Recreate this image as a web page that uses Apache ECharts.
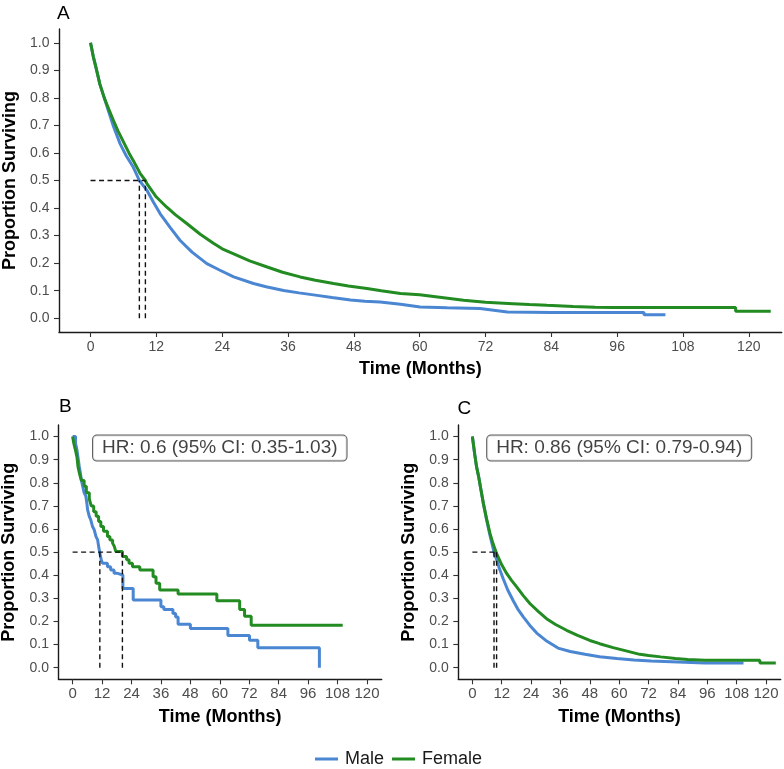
<!DOCTYPE html>
<html><head><meta charset="utf-8">
<script src="https://cdn.jsdelivr.net/npm/echarts@6/dist/echarts.min.js"></script>
<style>html,body{margin:0;padding:0;background:#fff}#c{width:784px;height:769px}</style>
</head><body><div id="c"></div>
<script>
// ---- tick labels ----
const xTicks = [0, 12, 24, 36, 48, 60, 72, 84, 96, 108, 120];
const yTicks = [0, 0.1, 0.2, 0.3, 0.4, 0.5, 0.6, 0.7, 0.8, 0.9, 1.0];
const groups = ['Male', 'Female'];

// ---- Panel A : [time (months), proportion surviving] ----
const maleA = [[0,1],[0.5,0.95],[1,0.91],[1.7,0.85],[2.5,0.8],[3.3,0.75],[4.2,0.695],[5.4,0.633],[6.5,0.59],[7.8,0.548],[8.9,0.5],[10.3,0.464],[11.5,0.42],[12.7,0.379],[14.5,0.33],[16.3,0.283],[18.5,0.24],[21.2,0.198],[23.5,0.175],[26.1,0.15],[29.7,0.126],[32,0.114],[35.2,0.101],[38,0.092],[41.3,0.083],[44,0.075],[47.4,0.066],[50,0.062],[52.8,0.059],[56.5,0.051],[60.1,0.041],[65,0.038],[71,0.035],[76,0.023],[84,0.021],[100.9,0.021],[100.9,0.013],[104.8,0.013]];
const femaleA = [[0,1],[0.5,0.95],[1,0.91],[1.7,0.85],[2.5,0.8],[3.3,0.76],[4.2,0.717],[5,0.68],[6,0.64],[7,0.6],[7.8,0.572],[9,0.527],[10,0.5],[10.3,0.488],[12,0.44],[13.9,0.403],[15.5,0.375],[17.6,0.343],[20,0.305],[22.4,0.272],[24,0.252],[26.1,0.234],[29,0.208],[32.2,0.186],[35,0.167],[38.2,0.15],[41,0.138],[44.3,0.126],[47,0.117],[50.4,0.108],[53,0.1],[56.5,0.09],[60,0.085],[64,0.075],[68,0.065],[72,0.058],[77,0.053],[80,0.05],[83.2,0.047],[88,0.043],[92,0.04],[95.4,0.039],[117.6,0.039],[117.6,0.025],[124,0.025]];
const medianA = [8.9, 10.0];

// ---- Panel B (Kaplan-Meier steps) ----
const maleB = [[0,1],[1.2,0.97],[1.8,0.94],[2.2,0.91],[2.7,0.872],[3.2,0.84],[3.6,0.81],[4.1,0.785],[4.7,0.757],[5.4,0.742],[5.8,0.713],[6.1,0.684],[6.8,0.655],[7.4,0.64],[8.1,0.611],[8.8,0.597],[9.5,0.568],[10.2,0.553],[10.6,0.525],[11.1,0.496],[11.7,0.466],[12.2,0.452],[14.2,0.437],[15.5,0.423],[16.9,0.409],[18,0.401],[20.5,0.343],[24.7,0.293],[36,0.264],[37.2,0.252],[40.9,0.235],[42,0.22],[43,0.188],[48,0.17],[63.3,0.14],[72.1,0.119],[75.5,0.087],[100.6,0]];
const femaleB = [[0,1],[0.5,0.97],[1.2,0.94],[1.8,0.91],[2.2,0.87],[2.8,0.84],[3.6,0.81],[4.7,0.785],[5.6,0.757],[6.8,0.73],[7.6,0.7],[8.6,0.675],[9.6,0.655],[10.6,0.633],[11.5,0.611],[12.6,0.59],[14.2,0.568],[15.2,0.553],[16.3,0.539],[17,0.525],[17.6,0.503],[20.3,0.481],[22,0.467],[23,0.452],[24.4,0.437],[27.4,0.423],[32.8,0.394],[34,0.365],[35.5,0.336],[43,0.319],[58.8,0.29],[68.1,0.252],[70.1,0.223],[72.8,0.184],[110.1,0.184]];
const medianB = [11.1, 20.3];
const hrB = 'HR: 0.6 (95% CI: 0.35-1.03)';

// ---- Panel C ----
const maleC = [[0,1],[0.5,0.96],[1,0.92],[1.7,0.87],[2.5,0.83],[3.5,0.77],[4.5,0.71],[5.8,0.64],[7.2,0.572],[8.85,0.5],[9.9,0.468],[11,0.43],[12.6,0.385],[14.5,0.335],[16.7,0.29],[18.5,0.255],[20.8,0.22],[23.5,0.183],[26.3,0.15],[30,0.118],[35,0.085],[40,0.07],[46,0.058],[52,0.048],[59,0.04],[66,0.033],[73,0.029],[84,0.025],[95,0.021],[110.8,0.021]];
const femaleC = [[0,1],[0.5,0.96],[1,0.92],[1.7,0.87],[2.5,0.83],[3.5,0.77],[4.5,0.711],[5.8,0.645],[7.2,0.581],[8.5,0.535],[9.9,0.494],[12,0.445],[14,0.408],[16,0.378],[18.1,0.35],[20.8,0.312],[23.5,0.278],[27,0.243],[30.3,0.212],[34,0.187],[38.5,0.162],[43,0.14],[48,0.118],[52,0.104],[57.5,0.087],[62,0.075],[68.4,0.058],[72,0.053],[77,0.047],[83,0.04],[88,0.036],[95,0.032],[117.5,0.032],[117.5,0.02],[124,0.02]];
const medianC = [8.85, 9.9];
const hrC = 'HR: 0.86 (95% CI: 0.79-0.94)';
const hrPos = [60, 0.95];

const COLORS = { Male: '#4A86D2', Female: '#228B22' };
const FONT = 'Liberation Sans, Arial, sans-serif';

function xAxis(i, margin, gap, fs) {
  return {
    type: 'value', gridIndex: i, min: -5.75, max: 126,
    axisLine: { onZero: false, lineStyle: { color: '#1a1a1a', width: 1.4 } },
    axisTick: { show: true, length: 5, customValues: xTicks, lineStyle: { color: '#333', width: 1.1 } },
    axisLabel: { customValues: xTicks, color: '#4d4d4d', fontSize: fs, margin: margin, fontFamily: FONT },
    splitLine: { show: false },
    name: 'Time (Months)', nameLocation: 'middle', nameGap: gap,
    nameTextStyle: { fontSize: 18, fontWeight: 'bold', color: '#000', fontFamily: FONT }
  };
}
function yAxis(i, gap) {
  return {
    type: 'value', gridIndex: i, min: -0.05, max: 1.05,
    axisLine: { onZero: false, lineStyle: { color: '#1a1a1a', width: 1.4 } },
    axisTick: { show: true, length: 5, customValues: yTicks, lineStyle: { color: '#333', width: 1.1 } },
    axisLabel: { customValues: yTicks, color: '#4d4d4d', fontSize: 14, margin: 9.5, fontFamily: FONT,
      formatter: v => Number(v).toFixed(1) },
    splitLine: { show: false },
    name: 'Proportion Surviving', nameLocation: 'middle', nameGap: gap, nameRotate: 90,
    nameTextStyle: { fontSize: 18, fontWeight: 'bold', color: '#000', fontFamily: FONT }
  };
}
function curve(name, data, i, step) {
  return {
    type: 'line', name: name, data: data, xAxisIndex: i, yAxisIndex: i,
    step: step ? 'end' : false, showSymbol: false, symbol: 'none', silent: true,
    itemStyle: { color: COLORS[name] },
    lineStyle: { color: COLORS[name], width: 3 }, z: 2
  };
}
function dashed(data, i) {
  return {
    type: 'line', name: 'median', data: data, xAxisIndex: i, yAxisIndex: i,
    showSymbol: false, symbol: 'none', silent: true,
    lineStyle: { color: '#111', width: 1.4, type: [5, 3.5] }, z: 3
  };
}
function medianLines(med, i) {
  const out = [dashed([[0, 0.5], [Math.max(...med), 0.5]], i)];
  med.forEach(m => out.push(dashed([[m, 0], [m, 0.5]], i)));
  return out;
}
function hrLabel(text, i) {
  return {
    type: 'scatter', name: 'hr', data: [hrPos], xAxisIndex: i, yAxisIndex: i,
    symbol: 'circle', symbolSize: 1, itemStyle: { color: 'rgba(255,255,255,0)' }, silent: true, z: 5,
    labelLayout: { hideOverlap: false },
    label: { show: true, position: 'inside', formatter: text, fontSize: 19, color: '#111',
      fontFamily: FONT, backgroundColor: '#fff', borderColor: '#333', borderWidth: 1,
      borderRadius: 4, padding: [3, 9, 3, 9] }
  };
}

const chart = echarts.init(document.getElementById('c'), null, { renderer: 'canvas' });
chart.setOption({
  animation: false,
  backgroundColor: '#fff',
  title: [
    { text: 'A', left: 57, top: 4, padding: 0, textStyle: { fontSize: 19, fontWeight: 'normal', color: '#000', fontFamily: FONT } },
    { text: 'B', left: 59, top: 397.5, padding: 0, textStyle: { fontSize: 19, fontWeight: 'normal', color: '#000', fontFamily: FONT } },
    { text: 'C', left: 457.5, top: 399, padding: 0, textStyle: { fontSize: 19, fontWeight: 'normal', color: '#000', fontFamily: FONT } }
  ],
  legend: {
    data: groups.map(g => ({ name: g, icon: 'rect' })),
    left: 315, top: 750, padding: 0, itemWidth: 23, itemHeight: 3, itemGap: 8,
    textStyle: { fontSize: 18, color: '#1a1a1a', fontFamily: FONT, padding: [0, 0, 0, 2] },
    selectedMode: false
  },
  grid: [
    { left: 59, top: 29, width: 722.7, height: 303, outerBoundsMode: 'none', containLabel: false },
    { left: 58.5, top: 425, width: 323.2, height: 254.3, outerBoundsMode: 'none', containLabel: false },
    { left: 458.3, top: 425, width: 322.4, height: 254.3, outerBoundsMode: 'none', containLabel: false }
  ],
  xAxis: [xAxis(0, 8, 28, 14), xAxis(1, 7, 29, 15), xAxis(2, 7, 29, 15)],
  yAxis: [yAxis(0, 40), yAxis(1, 40), yAxis(2, 40)],
  series: [
    curve('Male', maleA, 0, false), curve('Female', femaleA, 0, false),
    curve('Male', maleB, 1, true), curve('Female', femaleB, 1, true),
    curve('Male', maleC, 2, false), curve('Female', femaleC, 2, false),
    ...medianLines(medianA, 0), ...medianLines(medianB, 1), ...medianLines(medianC, 2),
    hrLabel(hrB, 1), hrLabel(hrC, 2)
  ]
});
</script>
</body></html>
